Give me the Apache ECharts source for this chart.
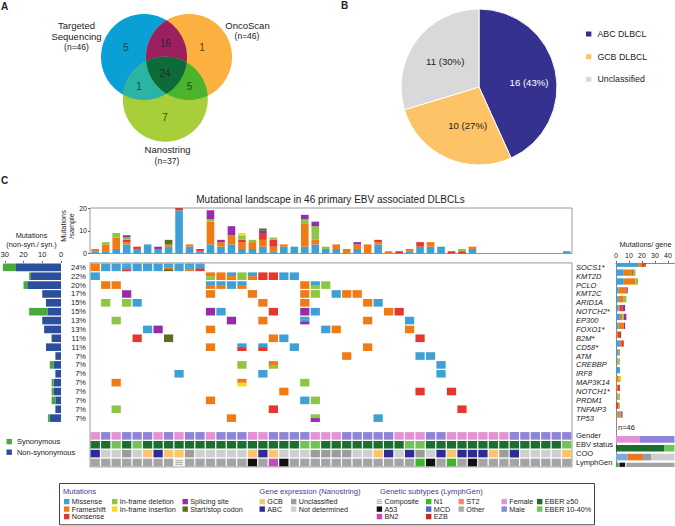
<!DOCTYPE html>
<html><head><meta charset="utf-8">
<script src="https://cdn.jsdelivr.net/npm/echarts@6.0.0/dist/echarts.min.js"></script>
<style>html,body{margin:0;padding:0;background:#fff}#c{width:675px;height:526px}</style>
</head><body><div id="c"></div>
<script>
// ================= DATA =================
// Panel A – Venn
const vennSets = ['Targeted\nSequencing', 'OncoScan', 'Nanostring'];
const vennSetSizes = [46, 46, 37];
const vennRegions = ['TS only', 'OS only', 'NS only', 'TS∩OS', 'TS∩NS', 'OS∩NS', 'TS∩OS∩NS'];
const vennCounts = [5, 1, 7, 16, 1, 5, 24];
// Panel B – pie
const cooGroups = ['ABC DLBCL', 'GCB DLBCL', 'Unclassified'];
const cooGroupCounts = [16, 10, 11];
// Panel C
const genes = ['SOCS1*','KMT2D','PCLO','KMT2C','ARID1A','NOTCH2*','EP300','FOXO1*','B2M*','CD58*','ATM','CREBBP','IRF8','MAP3K14','NOTCH1*','PRDM1','TNFAIP3','TP53'];
const genePercent = ['24%','22%','20%','17%','15%','15%','13%','13%','11%','11%','7%','7%','7%','7%','7%','7%','7%','7%'];
const annotNames = ['Gender', 'EBV status', 'COO', 'LymphGen'];
const nonSynCounts = [24,16,18,10,8,7,10,9,5,8,3,4,3,4,4,3,3,6];
const synCounts    = [7,1,2,0,0,10,0,0,0,0,0,2,0,1,1,2,0,1];
const mutationTypes = ['Missense','Frameshift','Nonsense','In-frame deletion','In-frame insertion','Splicing site','Start/stop codon'];
const mutationCodes = ['M','F','N','D','I','S','X'];
// mutations per sample (46 samples), one array per type
const sampleMissense   = [1,1,2,4,2,4,2,3,19,3, 1,4,3,4,2,2,3,1,3,3, 3,4,2,2,0,2,0,4,0,0, 1,3,3,3,0,0,2,0,0,0, 0,0,0,0,0,1];
const sampleFrameshift = [1,3,5,1,0,0,0,1,0,1, 0,10,2,4,3,3,3,2,1,0, 10,2,0,2,2,2,4,1,1,0, 1,0,2,0,0,0,1,0,0,0, 0,0,0,0,0,0];
const sampleNonsense   = [0,0,0,1,1,0,0,0,1,0, 1,0,0,0,1,0,3,3,0,0, 0,0,0,0,0,0,0,1,0,1, 0,2,0,0,1,1,0,0,0,0, 0,0,0,0,0,0];
const sampleInDel      = [0,1,2,1,0,0,0,0,0,0, 0,1,0,0,2,1,0,1,0,0, 2,6,1,0,0,0,0,0,0,0, 0,0,0,0,0,1,0,0,0,0, 0,0,0,0,0,0];
const sampleInIns      = [0,0,0,0,0,0,0,0,0,0, 0,0,0,0,1,0,0,0,0,0, 0,0,0,0,0,0,0,0,0,0, 0,0,0,0,0,0,0,0,0,0, 0,0,0,0,0,0];
const sampleSplicing   = [0,0,0,1,0,0,1,0,0,0, 0,4,1,4,0,0,1,0,0,0, 2,2,0,0,0,1,0,0,0,0, 0,0,0,0,0,0,0,0,0,0, 0,0,0,0,0,0];
const sampleStartStop  = [0,0,0,0,0,0,0,2,0,0, 0,0,0,0,0,0,1,0,0,0, 0,0,0,0,0,0,0,0,0,0, 0,0,0,0,0,0,0,0,0,0, 0,0,0,0,0,0];
// mutations per gene, one array per type
const geneMissense   = [17,6,6,2,2,2,3,2,0,3,2,1,3,0,0,1,0,1];
const geneFrameshift = [3,6,9,6,4,1,2,4,1,1,1,1,0,2,1,1,0,2];
const geneNonsense   = [2,1,0,0,0,2,0,0,2,2,0,0,0,0,2,0,2,0];
const geneInDel      = [0,2,2,0,2,0,1,0,0,0,0,1,0,1,0,1,1,1];
const geneInIns      = [0,0,0,0,0,0,0,0,0,0,0,0,0,1,0,0,0,0];
const geneSplicing   = [0,0,0,1,0,2,2,1,0,0,0,0,0,0,0,0,0,1];
const geneStartStop  = [1,0,0,0,0,0,0,0,1,0,0,0,0,0,0,0,0,0];
// oncoprint: per gene, [sample number, mutation code(s) top→bottom]
const oncoCells = [
  [[1,'F'],[2,'M'],[3,'M'],[4,'MMMN'],[5,'M'],[6,'M'],[7,'M'],[8,'MMFX'],[9,'M'],[10,'MMMF'],[11,'MMN']],
  [[1,'M'],[12,'FD'],[13,'F'],[14,'MFF'],[15,'D'],[16,'MF'],[17,'N'],[18,'N'],[19,'M'],[20,'M']],
  [[2,'F'],[3,'F'],[12,'MF'],[13,'MF'],[14,'M'],[15,'MF'],[21,'F'],[22,'MD'],[23,'D']],
  [[4,'S'],[12,'F'],[16,'F'],[21,'F'],[22,'D'],[24,'M'],[25,'F'],[26,'F']],
  [[2,'D'],[4,'D'],[5,'M'],[17,'F'],[21,'F'],[27,'F'],[28,'M']],
  [[12,'S'],[13,'M'],[18,'N'],[21,'S'],[22,'M'],[29,'F'],[30,'N']],
  [[3,'D'],[14,'S'],[17,'F'],[21,'MMS'],[27,'F'],[31,'M']],
  [[6,'M'],[7,'S'],[12,'F'],[23,'M'],[24,'F'],[31,'F']],
  [[5,'N'],[8,'X'],[18,'F'],[19,'M'],[32,'N']],
  [[12,'F'],[15,'MN'],[17,'MN'],[20,'M'],[27,'F']],
  [[25,'F'],[32,'M'],[33,'M']],
  [[15,'D'],[18,'FD'],[34,'M']],
  [[9,'M'],[17,'M'],[34,'M']],
  [[3,'F'],[15,'FI'],[21,'D']],
  [[19,'F'],[32,'N'],[35,'N']],
  [[12,'F'],[21,'M'],[22,'D']],
  [[3,'D'],[18,'N'],[36,'N']],
  [[14,'F'],[22,'DS'],[28,'M']]
];
// annotation tracks per sample
const genderBySample = 'FMFMMMFMFMMFMMMFFMMMMFFFMMMMMFFFMMFFFFFFMMMMMM'.split('');      // F female, M male
const eberBySample   = 'HHLHLHHHHHHHHHHHHHHHLLHHHHHHHHLLHHHHHHHHHHHHHL'.split('');      // H >=50, L 10-40%
const cooBySample    = 'ANNUNGAGGUNNNNNGAGNNNUUUUNNGANAUNAGAAAGUANNNNG'.split('');      // A ABC, G GCB, U unclass., N not det.
const lymphBySample  = 'OOOOOOOOCOOOOOOAOBAOOOOOOOOOOOONAONOAOOOOOOOOO'.split('');      // O other, C composite, A A53, B BN2, N N1
// annotation summaries (right bars)
const genderSummary = [18, 28];
const eberSummary = [37, 9];
const cooSummary = [9, 11, 7, 19];
const lymphSummary = [2, 1, 4, 1, 38];
const leftTicks = [0, 10, 20, 30];
const rightTicks = [0, 10, 20, 30, 40];
const legendGeneExpr = ['GCB', 'ABC', 'Unclassified', 'Not determined'];
const legendLymph = ['Composite', 'A53', 'BN2', 'N1', 'MCD', 'EZB', 'ST2', 'Other'];
const legendGender = ['Female', 'Male'];
const legendEber = ['EBER ≥50', 'EBER 10-40%'];

// ================= STYLE / LAYOUT =================
const FONT = '"Liberation Sans", Arial, Helvetica, sans-serif';
const TXT = '#222';
const mutColor = {M:'#3ea0d5', F:'#f07b13', N:'#e5372c', D:'#8dc641', I:'#fdd91c', S:'#962ca9', X:'#5b6c24'};
const mutColors = mutationCodes.map(c => mutColor[c]);
const genderColor = {F:'#e592d4', M:'#8e84d8'};
const eberColor = {H:'#1c6e30', L:'#73c258'};
const cooColor = {A:'#302b93', G:'#fdc470', U:'#9c9c9c', N:'#cfcfcf'};
const lymphColor = {O:'#a4a4a4', A:'#111111', B:'#c24db8', N:'#3cb729', C:'#f3f3f3'};
const annotTracks = [[genderBySample, genderColor],[eberBySample, eberColor],[cooBySample, cooColor],[lymphBySample, lymphColor]];
const annotSummaries = [genderSummary, eberSummary, cooSummary, lymphSummary];
const annotSummaryColors = [
  ['#e592d4','#8e84d8'],
  ['#1c6e30','#73c258'],
  ['#7eaadb','#e8771f','#9c9c9c','#cfcfcf'],
  ['#3cb729','#c24db8','#111111','#dedede','#a4a4a4']
];
const vennLayout = {
  circles: [[144, 57, 43], [189, 57, 43], [165.3, 99.2, 42.5]],
  regionColors: ['#0aa0d5', '#fbb040', '#a6cf39', '#9c1f60', '#2bb4a4', '#4bb42d', '#0f6a39'],
  labelPos: [[126, 47], [202, 47], [165, 117.5], [165.5, 43], [139, 86], [189.5, 86], [165, 73.5]]
};
const pieLabelShift = [[9, 4], [6, 0], [0, -1]];

const sampleIds = sampleMissense.map((_, i) => 'S' + (i + 1));
const oncoRows = genes.concat([''], annotNames);
const NR = oncoRows.length;
const ROWH = 8.87;

// ---- Venn geometry (convex clipping of circle polygons) ----
function circlePoly(cx, cy, r, n) {
  const p = [];
  for (let i = 0; i < n; i++) { const t = 2 * Math.PI * i / n; p.push([cx + r * Math.cos(t), cy + r * Math.sin(t)]); }
  return p;
}
function clipConvex(subject, clip) {
  const mx = clip.reduce((s, p) => s + p[0], 0) / clip.length;
  const my = clip.reduce((s, p) => s + p[1], 0) / clip.length;
  let out = subject;
  for (let i = 0; i < clip.length && out.length; i++) {
    const A = clip[i], B = clip[(i + 1) % clip.length];
    const cr = P => (B[0] - A[0]) * (P[1] - A[1]) - (B[1] - A[1]) * (P[0] - A[0]);
    const ref = cr([mx, my]) >= 0 ? 1 : -1;
    const inp = out; out = [];
    for (let j = 0; j < inp.length; j++) {
      const P = inp[j], Q = inp[(j + 1) % inp.length];
      const a = cr(P) * ref, b = cr(Q) * ref;
      if (a >= 0) out.push(P);
      if ((a >= 0) !== (b >= 0)) { const t = a / (a - b); out.push([P[0] + t * (Q[0] - P[0]), P[1] + t * (Q[1] - P[1])]); }
    }
  }
  return out;
}
const cp = vennLayout.circles.map(c => circlePoly(c[0], c[1], c[2], 180));
const vennShapes = [cp[0], cp[1], cp[2], clipConvex(cp[0], cp[1]), clipConvex(cp[0], cp[2]), clipConvex(cp[1], cp[2]), clipConvex(clipConvex(cp[0], cp[1]), cp[2])];

// ---- oncoprint cells ----
const cells = [];
oncoCells.forEach((list, g) => list.forEach(([s, code]) => {
  cells.push({col: s - 1, row: g, colors: code.split('').map(ch => mutColor[ch])});
}));
annotTracks.forEach(([arr, cmap], k) => arr.forEach((code, s) => {
  cells.push({col: s, row: genes.length + 1 + k, colors: [cmap[code]], annot: true, composite: code === 'C'});
}));

// ================= SERIES =================
const series = [];
series.push({
  type: 'custom', xAxisIndex: 0, yAxisIndex: 0, silent: true,
  data: vennShapes.map((_, i) => [i, 0]),
  renderItem: (params, api) => ({
    type: 'polygon',
    shape: {points: vennShapes[params.dataIndex].map(p => api.coord(p))},
    style: {fill: vennLayout.regionColors[params.dataIndex]}
  })
});
series.push({
  type: 'scatter', xAxisIndex: 0, yAxisIndex: 0, silent: true, z: 5, symbolSize: 1,
  itemStyle: {color: 'rgba(0,0,0,0)'},
  data: vennCounts.map((c, i) => ({name: vennRegions[i], value: [vennLayout.labelPos[i][0], vennLayout.labelPos[i][1], c]})),
  label: {show: true, position: 'inside', formatter: p => String(p.value[2]), fontSize: 10, color: TXT, fontFamily: FONT}
});
series.push({
  type: 'pie', center: [479, 87], radius: 78, startAngle: 90, clockwise: true, silent: true,
  percentPrecision: 0,
  itemStyle: {borderColor: '#fff', borderWidth: 1},
  label: {show: true, position: 'inside', formatter: p => `${p.value} (${p.percent}%)`, fontSize: 9.6, fontFamily: FONT},
  labelLine: {show: false},
  labelLayout: p => ({dx: pieLabelShift[p.dataIndex][0], dy: pieLabelShift[p.dataIndex][1]}),
  data: cooGroups.map((n, i) => ({name: n, value: cooGroupCounts[i],
    itemStyle: {color: ['#35318f', '#fdc366', '#d9d9d9'][i]},
    label: {color: i === 0 ? '#fff' : TXT}}))
});
const sampleSeries = [sampleMissense, sampleFrameshift, sampleNonsense, sampleInDel, sampleInIns, sampleSplicing, sampleStartStop];
sampleSeries.forEach((arr, t) => series.push({
  type: 'bar', name: mutationTypes[t], xAxisIndex: 1, yAxisIndex: 1, stack: 'sample', barWidth: 7.6,
  itemStyle: {color: mutColors[t]}, silent: true, data: arr
}));
series.push({
  type: 'custom', xAxisIndex: 2, yAxisIndex: 2, silent: true, clip: false,
  encode: {x: 0, y: 1},
  data: cells.map((c, i) => [c.col, c.row, i]),
  renderItem: (params, api) => {
    const cell = cells[params.dataIndex];
    const p = api.coord([cell.col, cell.row]);
    const sz = api.size([1, 1]);
    const w = cell.annot ? sz[0] - 1.2 : sz[0] * 0.88;
    const h = cell.annot ? sz[1] - 1.3 : sz[1] * 0.86;
    const x0 = p[0] - w / 2, y0 = p[1] - h / 2;
    const children = [];
    if (cell.composite) {
      children.push({type: 'rect', shape: {x: x0, y: y0, width: w, height: h}, style: {fill: '#f3f3f3'}});
      for (let k = 1; k <= 3; k++) children.push({type: 'line', shape: {x1: x0 + 1, y1: y0 + h * k / 4, x2: x0 + w - 1, y2: y0 + h * k / 4}, style: {stroke: '#9a9a9a', lineWidth: 0.8}});
    } else {
      const n = cell.colors.length, sh = h / n;
      cell.colors.forEach((col, k) => children.push({type: 'rect', shape: {x: x0, y: y0 + k * sh, width: w, height: sh + (k < n - 1 ? 0.3 : 0)}, style: {fill: col}}));
    }
    return {type: 'group', children};
  }
});
series.push({type: 'bar', name: 'Non-synonymous', xAxisIndex: 3, yAxisIndex: 3, stack: 'syn', barWidth: 7.6, silent: true, itemStyle: {color: '#2b4f9d'}, data: nonSynCounts});
series.push({type: 'bar', name: 'Synonymous', xAxisIndex: 3, yAxisIndex: 3, stack: 'syn', barWidth: 7.6, silent: true, itemStyle: {color: '#4ba83d'}, data: synCounts});
const geneSeries = [geneMissense, geneFrameshift, geneNonsense, geneInDel, geneInIns, geneSplicing, geneStartStop];
geneSeries.forEach((arr, t) => series.push({
  type: 'bar', name: mutationTypes[t], xAxisIndex: 4, yAxisIndex: 4, stack: 'gene', barWidth: 6.3, silent: true,
  itemStyle: {color: mutColors[t]}, data: arr.concat(['-', '-', '-', '-', '-'])
}));
for (let k = 0; k < 5; k++) {
  const data = oncoRows.map((_, r) => {
    if (r <= genes.length) return '-';
    const a = r - genes.length - 1, v = annotSummaries[a][k];
    return v === undefined ? '-' : {value: v, itemStyle: {color: annotSummaryColors[a][k]}};
  });
  series.push({type: 'bar', xAxisIndex: 4, yAxisIndex: 4, stack: 'annot', barWidth: 6.6, silent: true, data});
}

// ================= GRAPHIC TEXT / LEGEND BOX =================
const txt = (x, y, text, o = {}) => ({type: 'text', x, y, rotation: o.rotation || 0, silent: true, style: {
  text, fill: o.color || TXT, fontSize: o.size || 8, fontFamily: FONT, fontWeight: o.weight || 'normal',
  align: o.align || 'left', verticalAlign: 'middle', lineHeight: o.lh || undefined}});
const sq = (x, y, color, s = 5.4) => ({type: 'rect', silent: true, shape: {x, y: y - s / 2, width: s, height: s}, style: {fill: color}});
const graphic = [
  txt(1, 6, 'A', {size: 10, weight: 'bold'}),
  txt(341, 5, 'B', {size: 10, weight: 'bold'}),
  txt(1, 180, 'C', {size: 10, weight: 'bold'}),
  txt(76.5, 30.7, vennSets[0], {size: 9.5, align: 'center', lh: 11}),
  txt(76.5, 47, `(n=${vennSetSizes[0]})`, {size: 8.5, align: 'center'}),
  txt(247.5, 25, vennSets[1], {size: 9.5, align: 'center'}),
  txt(247, 35.8, `(n=${vennSetSizes[1]})`, {size: 8.5, align: 'center'}),
  txt(167.5, 149.3, vennSets[2], {size: 9.5, align: 'center'}),
  txt(167, 160.7, `(n=${vennSetSizes[2]})`, {size: 8.5, align: 'center'}),
  txt(330.5, 199, 'Mutational landscape in 46 primary EBV associated DLBCLs', {size: 10, align: 'center'}),
  txt(67.5, 226, 'Mutations\n/sample', {size: 7.3, align: 'center', rotation: Math.PI / 2, lh: 8}),
  txt(31.5, 239.5, 'Mutations\n(non-syn./ syn.)', {size: 7.3, align: 'center', lh: 9}),
  txt(645.5, 244.5, 'Mutations/ gene', {size: 7.3, align: 'center'}),
  txt(618, 427.5, 'n=46', {size: 7.5}),
  {type: 'rect', silent: true, shape: {x: 59.5, y: 483.5, width: 535, height: 41.3}, style: {fill: 'none', stroke: '#444', lineWidth: 1}}
];
const HDR = '#3d3d9c';
const LR = [501.6, 509.1, 516.6];
const addItem = (x, r, color, text, tcolor) => { graphic.push(sq(x, LR[r], color)); graphic.push(txt(x + 7.8, LR[r], text, {size: 7.2, color: tcolor || TXT})); };
graphic.push(txt(63, 491, 'Mutations', {size: 7.6, color: HDR}));
[[64, 0], [64, 1], [64, 2], [112, 0], [112, 1], [182.5, 0], [182.5, 1]].forEach(([x, r], i) => addItem(x, r, mutColors[i], mutationTypes[i]));
graphic.push(txt(259.3, 491, 'Gene expression (Nanostring)', {size: 7.6, color: HDR}));
[[259.5, 0, cooColor.G], [259.5, 1, cooColor.A], [291, 0, cooColor.U], [291, 1, cooColor.N]].forEach(([x, r, c], i) => addItem(x, r, c, legendGeneExpr[i]));
graphic.push(txt(380, 491, 'Genetic subtypes (LymphGen)', {size: 7.6, color: HDR}));
[-1.8, 0, 1.8].forEach(d => graphic.push({type: 'line', silent: true, shape: {x1: 376.7, y1: LR[0] + d, x2: 382, y2: LR[0] + d}, style: {stroke: '#888', lineWidth: 0.7}}));
graphic.push(txt(384.5, LR[0], legendLymph[0], {size: 7.2}));
const lymphLegendColors = ['#111111', '#c24db8', '#3cb729', '#4a6cc0', '#c42b24', '#f7886b', '#ababab'];
[[376.7, 1], [376.7, 2], [426, 0], [426, 1], [426, 2], [458.5, 0], [458.5, 1]].forEach(([x, r], i) => addItem(x, r, lymphLegendColors[i], legendLymph[i + 1]));
[[501.5, 0, genderColor.F], [501.5, 1, genderColor.M]].forEach(([x, r, c], i) => addItem(x, r, c, legendGender[i]));
[[537, 0, eberColor.H], [537, 1, eberColor.L]].forEach(([x, r, c], i) => addItem(x, r, c, legendEber[i]));

// ================= OPTION =================
const G = {outerBoundsMode: 'none', containLabel: false};
const option = {
  animation: false,
  textStyle: {fontFamily: FONT},
  grid: [
    Object.assign({left: 0, top: 0, width: 340, height: 180}, G),
    Object.assign({left: 90, top: 208, width: 482, height: 45.5, show: true, borderColor: '#9a9a9a', borderWidth: 1, backgroundColor: 'transparent'}, G),
    Object.assign({left: 90, top: 262.9, width: 482, height: ROWH * NR, show: true, borderColor: '#9a9a9a', borderWidth: 1, backgroundColor: 'transparent'}, G),
    Object.assign({left: 1, top: 262.9, width: 60, height: ROWH * genes.length}, G),
    Object.assign({left: 616, top: 262.9, width: 58.5, height: ROWH * NR}, G)
  ],
  xAxis: [
    {gridIndex: 0, type: 'value', min: 0, max: 340, show: false},
    {gridIndex: 1, type: 'category', data: sampleIds, show: false},
    {gridIndex: 2, type: 'category', data: sampleIds, show: false},
    {gridIndex: 3, type: 'value', min: 0, max: 32, inverse: true, position: 'top',
      axisLine: {show: false}, splitLine: {show: false},
      axisTick: {show: true, length: 2, customValues: leftTicks, lineStyle: {color: '#666'}},
      axisLabel: {customValues: leftTicks, fontSize: 7.5, margin: 4, color: TXT, hideOverlap: false, formatter: v => (v % 10 === 0 ? String(v) : '')}},
    {gridIndex: 4, type: 'value', min: 0, max: 45, position: 'top',
      axisLine: {show: true, lineStyle: {color: '#888'}}, splitLine: {show: false},
      axisTick: {show: true, length: 2, customValues: rightTicks, lineStyle: {color: '#666'}},
      axisLabel: {customValues: rightTicks, fontSize: 7, margin: 4, color: TXT, formatter: v => (v % 10 === 0 ? String(v) : '')}}
  ],
  yAxis: [
    {gridIndex: 0, type: 'value', min: 0, max: 180, inverse: true, show: false},
    {gridIndex: 1, type: 'value', min: 0, max: 20, interval: 10, axisLine: {show: false}, splitLine: {show: false},
      axisTick: {show: true, length: 2, lineStyle: {color: '#666'}},
      axisLabel: {fontSize: 7, margin: 3, color: TXT}},
    {gridIndex: 2, type: 'category', data: oncoRows, inverse: true, axisLine: {show: false}, axisTick: {show: false},
      axisLabel: {interval: 0, fontSize: 7.5, margin: 4, color: TXT, formatter: (v, i) => (i < genes.length ? genePercent[i] : '')}},
    {gridIndex: 3, type: 'category', data: genes, inverse: true, show: false},
    {gridIndex: 4, type: 'category', data: oncoRows, inverse: true, axisLine: {show: true, lineStyle: {color: '#888'}}, axisTick: {show: false},
      axisLabel: {interval: 0, align: 'left', margin: 40, color: TXT, fontSize: 7.5,
        formatter: (v, i) => (i < genes.length ? '{g|' + v + '}' : (v ? '{a|' + v + '}' : '')),
        rich: {g: {fontStyle: 'italic', fontSize: 7.5, color: TXT}, a: {fontSize: 7.5, color: TXT}}}}
  ],
  legend: [
    {data: cooGroups, orient: 'vertical', left: 579, top: 24.6, icon: 'rect', itemWidth: 7.4, itemHeight: 7, itemGap: 13.6,
      selectedMode: false, textStyle: {fontSize: 8.8, color: TXT, fontFamily: FONT}},
    {data: ['Synonymous', 'Non-synonymous'], orient: 'vertical', left: 1.5, top: 432.6, icon: 'rect', itemWidth: 5.4, itemHeight: 5.4, itemGap: 2.6,
      selectedMode: false, textStyle: {fontSize: 7.5, color: TXT, fontFamily: FONT}}
  ],
  graphic: graphic,
  series: series
};
const chart = echarts.init(document.getElementById('c'), null, {renderer: 'svg', width: 675, height: 526});
chart.setOption(option);
</script>
</body></html>
